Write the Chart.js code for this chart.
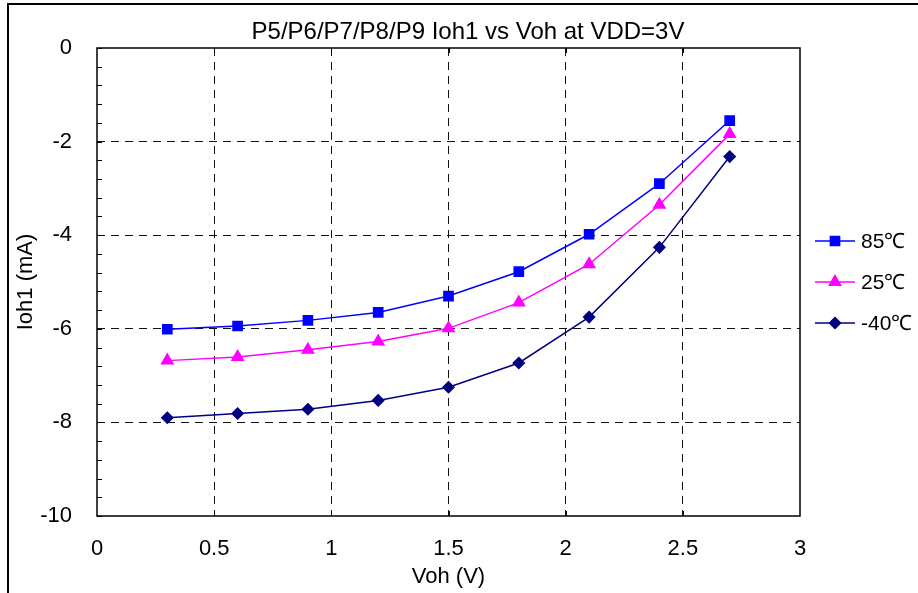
<!DOCTYPE html>
<html>
<head>
<meta charset="utf-8">
<script src="https://cdn.jsdelivr.net/npm/chart.js@4"></script>
<style>
  html, body { margin: 0; padding: 0; background: #fff; }
  #wrap { width: 918px; height: 593px; }
</style>
</head>
<body>
<div id="wrap"><canvas id="myChart" width="918" height="593"></canvas></div>
<script>
const chartTitle = "P5/P6/P7/P8/P9 Ioh1 vs Voh at VDD=3V"
const voh = [0.3, 0.6, 0.9, 1.2, 1.5, 1.8, 2.1, 2.4, 2.7]
const seriesNames = ["85℃", "25℃", "-40℃"]
const ioh85 = [-6.01, -5.94, -5.82, -5.65, -5.30, -4.78, -3.98, -2.90, -1.55]
const ioh25 = [-6.68, -6.60, -6.45, -6.27, -5.99, -5.44, -4.62, -3.35, -1.84]
const iohMinus40 = [-7.90, -7.81, -7.72, -7.53, -7.25, -6.73, -5.75, -4.26, -2.32]

const FONT = "'Liberation Sans', Arial, sans-serif"

function pts(ys) {
  return voh.map((x, i) => ({ x: x, y: ys[i] }))
}

// frame, plot box, inner ticks, title and legend
const decorations = {
  id: 'decorations',
  beforeDatasetsDraw(chart) {
    const { ctx, chartArea: a, scales } = chart
    ctx.save()
    // plot border
    ctx.strokeStyle = '#000'
    ctx.lineWidth = 1.5
    ctx.setLineDash([])
    ctx.strokeRect(a.left, a.top, a.right - a.left, a.bottom - a.top)
    ctx.lineWidth = 1
    // minor ticks on the y axis
    for (let v = 0; v >= -10.001; v -= 0.4) {
      const py = Math.round(scales.y.getPixelForValue(v)) + 0.5
      ctx.beginPath()
      ctx.moveTo(a.left, py)
      ctx.lineTo(a.left + 5, py)
      ctx.stroke()
    }
    // x ticks on top and bottom
    for (let v = 0.5; v < 3; v += 0.5) {
      const px = Math.round(scales.x.getPixelForValue(v)) + 0.5
      ctx.beginPath()
      ctx.moveTo(px, a.top)
      ctx.lineTo(px, a.top + 5)
      ctx.moveTo(px, a.bottom)
      ctx.lineTo(px, a.bottom - 5)
      ctx.stroke()
    }
    ctx.restore()
  },
  afterDraw(chart) {
    const { ctx } = chart
    ctx.save()
    // outer frame (top and left only)
    ctx.strokeStyle = '#000'
    ctx.lineWidth = 2
    ctx.beginPath()
    ctx.moveTo(8, 593)
    ctx.lineTo(8, 4)
    ctx.lineTo(918, 4)
    ctx.stroke()

    // title
    ctx.fillStyle = '#000'
    ctx.font = '24px ' + FONT
    ctx.textAlign = 'center'
    ctx.textBaseline = 'middle'
    ctx.fillText(chartTitle, 468, 32)

    // legend
    const legendY = [241, 282, 323]
    chart.data.datasets.forEach((ds, i) => {
      const y = legendY[i]
      ctx.strokeStyle = ds.borderColor
      ctx.lineWidth = 1.5
      ctx.beginPath()
      ctx.moveTo(815, y)
      ctx.lineTo(855, y)
      ctx.stroke()
      Chart.helpers.drawPoint(ctx, {
        pointStyle: ds.pointStyle,
        radius: ds.pointRadius,
        borderWidth: 1
      }, 835, y)
      ctx.fillStyle = ds.pointBackgroundColor
      ctx.fill()
      ctx.fillStyle = '#000'
      ctx.font = '21px ' + FONT
      ctx.textAlign = 'left'
      ctx.textBaseline = 'middle'
      ctx.fillText(ds.label, 861, y + 1)
    })
    ctx.restore()
  }
}

const edgeOff = (min, max) => (c) => {
  const v = c.tick.value
  return (Math.abs(v - min) < 1e-6 || Math.abs(v - max) < 1e-6) ? 'rgba(0,0,0,0)' : '#111'
}

const ctx = document.getElementById('myChart')

new Chart(ctx, {
  type: 'scatter',
  data: {
    datasets: [{
      label: seriesNames[0],
      data: pts(ioh85),
      showLine: true,
      borderColor: '#0000FF',
      backgroundColor: '#0000FF',
      pointBackgroundColor: '#0000FF',
      pointBorderColor: '#0000FF',
      pointStyle: 'rect',
      pointRadius: 6.5,
      borderWidth: 1.5
    }, {
      label: seriesNames[1],
      data: pts(ioh25),
      showLine: true,
      borderColor: '#FF00FF',
      backgroundColor: '#FF00FF',
      pointBackgroundColor: '#FF00FF',
      pointBorderColor: '#FF00FF',
      pointStyle: 'triangle',
      pointRadius: 6.5,
      borderWidth: 1.5
    }, {
      label: seriesNames[2],
      data: pts(iohMinus40),
      showLine: true,
      borderColor: '#000080',
      backgroundColor: '#000080',
      pointBackgroundColor: '#000080',
      pointBorderColor: '#000080',
      pointStyle: 'rectRot',
      pointRadius: 5.5,
      borderWidth: 1.5
    }]
  },
  options: {
    responsive: false,
    animation: false,
    layout: {
      padding: { left: 0, right: 118, top: 48, bottom: 0 }
    },
    plugins: {
      legend: { display: false },
      title: { display: false },
      tooltip: { enabled: false }
    },
    scales: {
      x: {
        type: 'linear',
        min: 0,
        max: 3,
        afterFit(scale) { scale.height = 77 },
        border: { display: false, dash: [8, 6] },
        grid: { color: edgeOff(0, 3), drawTicks: false, lineWidth: 1 },
        ticks: {
          stepSize: 0.5,
          padding: 20,
          color: '#000',
          font: { family: FONT, size: 22 },
          callback: (v) => String(v)
        },
        title: {
          display: true,
          text: 'Voh (V)',
          color: '#000',
          font: { family: FONT, size: 22 },
          padding: { top: 0, bottom: 3 }
        }
      },
      y: {
        type: 'linear',
        min: -10,
        max: 0,
        afterFit(scale) { scale.width = 97 },
        border: { display: false, dash: [8, 6] },
        grid: { color: edgeOff(-10, 0), drawTicks: false, lineWidth: 1 },
        ticks: {
          stepSize: 2,
          padding: 25,
          color: '#000',
          font: { family: FONT, size: 22 },
          callback: (v) => String(v)
        },
        title: {
          display: true,
          text: 'Ioh1 (mA)',
          color: '#000',
          font: { family: FONT, size: 22 },
          padding: { top: 13, bottom: 0 }
        }
      }
    }
  },
  plugins: [decorations]
})
</script>
</body>
</html>
